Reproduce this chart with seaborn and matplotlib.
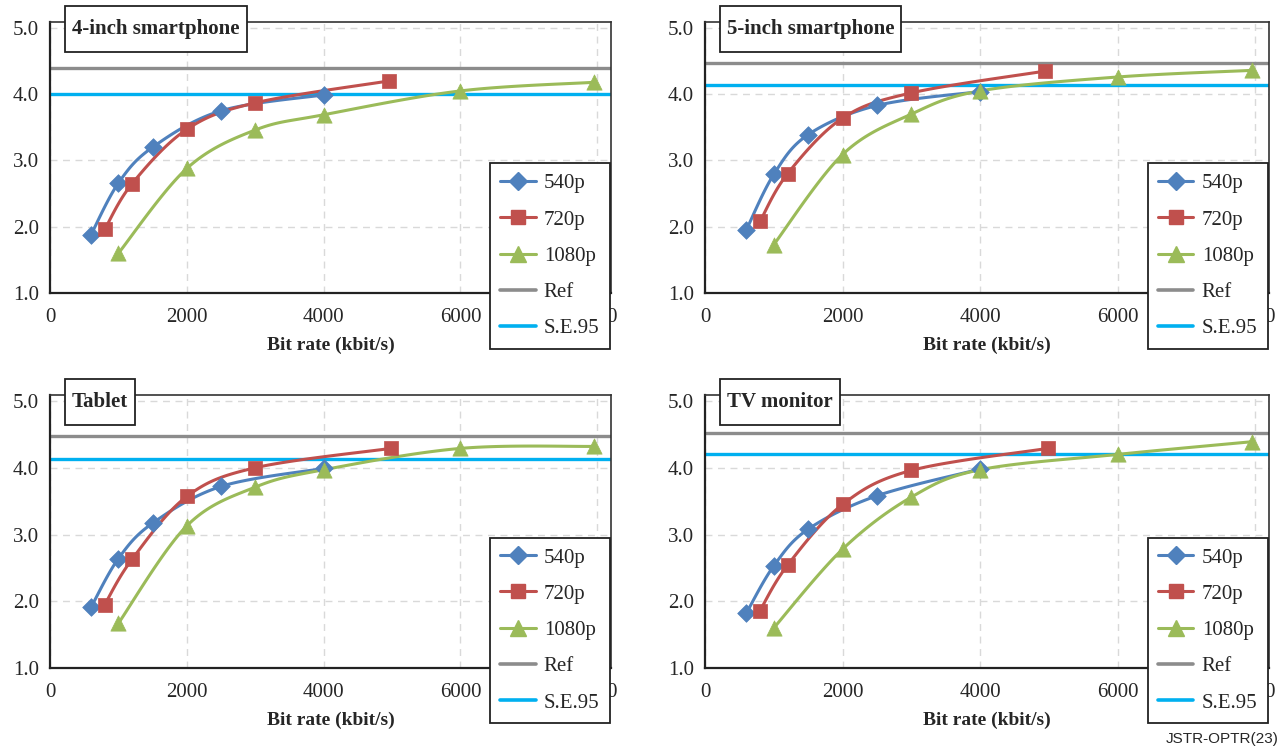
import numpy as np
import pandas as pd
import matplotlib
matplotlib.use("Agg")
import matplotlib.pyplot as plt
from matplotlib.lines import Line2D
from matplotlib.patches import Rectangle
import seaborn as sns

# ---------------- data ----------------
panel_titles = ["4-inch smartphone", "5-inch smartphone", "Tablet", "TV monitor"]
series_names = ["540p", "720p", "1080p"]

x_540 = [600, 1000, 1500, 2500, 4000]
x_720_top = [800, 1200, 2000, 3000, 4950]
x_720_bottom = [800, 1200, 2000, 3000, 4980]
x_1080 = [1000, 2000, 3000, 4000, 6000, 7950]

y_540 = [
    [1.88, 2.66, 3.20, 3.75, 3.99],
    [1.95, 2.79, 3.39, 3.83, 4.04],
    [1.91, 2.64, 3.17, 3.72, 3.99],
    [1.82, 2.53, 3.08, 3.58, 3.98],
]
y_720 = [
    [1.96, 2.65, 3.47, 3.87, 4.20],
    [2.08, 2.80, 3.64, 4.02, 4.35],
    [1.95, 2.63, 3.57, 4.00, 4.29],
    [1.86, 2.54, 3.45, 3.96, 4.29],
]
y_1080 = [
    [1.60, 2.88, 3.46, 3.69, 4.05, 4.18],
    [1.73, 3.09, 3.70, 4.05, 4.26, 4.36],
    [1.67, 3.13, 3.71, 3.97, 4.29, 4.32],
    [1.60, 2.78, 3.56, 3.97, 4.20, 4.39],
]
ref_values = [4.39, 4.47, 4.47, 4.52]
se95_values = [4.00, 4.14, 4.13, 4.20]

x_ticks = [0, 2000, 4000, 6000, 8000]
y_ticks = [1.0, 2.0, 3.0, 4.0, 5.0]

# ---------------- style ----------------
C_540 = "#4F81BD"
C_720 = "#C0504D"
C_1080 = "#9BBB59"
C_REF = "#8C8C8C"
C_SE = "#00B0F0"

sns.set_theme(style="white")
plt.rcParams["font.family"] = ["Liberation Serif", "DejaVu Serif"]


def catmull_rom(x, y, n=24):
    """Excel-like smoothing of a polyline (uniform Catmull-Rom)."""
    p = np.column_stack([x, y]).astype(float)
    p_ext = np.vstack([p[0], p, p[-1]])
    out = []
    t = np.linspace(0, 1, n, endpoint=False)[:, None]
    for i in range(1, len(p_ext) - 2):
        p0, p1, p2, p3 = p_ext[i - 1], p_ext[i], p_ext[i + 1], p_ext[i + 2]
        seg = 0.5 * ((2 * p1) + (-p0 + p2) * t + (2 * p0 - 5 * p1 + 4 * p2 - p3) * t ** 2
                     + (-p0 + 3 * p1 - 3 * p2 + p3) * t ** 3)
        out.append(seg)
    out.append(p[-1][None, :])
    out = np.vstack(out)
    return out[:, 0], out[:, 1]


W, H = 1288, 749
fig = plt.figure(figsize=(W / 100, H / 100), dpi=100)

# axes boxes in pixels: left, right, top, bottom
boxes = [
    (50, 611, 22, 293),
    (705, 1269, 22, 293),
    (50, 611, 395, 668),
    (705, 1269, 395, 668),
]

axes = []
for k, (l, r, t, b) in enumerate(boxes):
    ax = fig.add_axes([l / W, (H - b) / H, (r - l) / W, (b - t) / H])
    axes.append(ax)
    x720 = x_720_top if k < 2 else x_720_bottom

    ax.set_xlim(0, 8200)
    ax.set_ylim(1.0, 5.09)
    ax.set_xticks(x_ticks)
    ax.set_yticks(y_ticks)
    ax.set_xticklabels([str(v) for v in x_ticks])
    ax.set_yticklabels([f"{v:.1f}" for v in y_ticks])
    ax.grid(True, color="#D9D9D9", linestyle=(0, (5, 4)), linewidth=1.0)
    ax.set_axisbelow(True)

    # reference lines
    ref_df = pd.DataFrame({"x": [0, 8200], "y": [ref_values[k]] * 2})
    se_df = pd.DataFrame({"x": [0, 8200], "y": [se95_values[k]] * 2})
    sns.lineplot(data=ref_df, x="x", y="y", ax=ax, color=C_REF, linewidth=2.4, legend=False)
    sns.lineplot(data=se_df, x="x", y="y", ax=ax, color=C_SE, linewidth=2.4, legend=False)

    specs = [
        (x_540, y_540[k], C_540, "D", 9),
        (x720, y_720[k], C_720, "s", 10.5),
        (x_1080, y_1080[k], C_1080, "^", 11),
    ]
    for xs, ys, c, m, ms in specs:
        sx, sy = catmull_rom(xs, ys)
        sns.lineplot(x=sx, y=sy, ax=ax, color=c, linewidth=2.2, sort=False,
                     estimator=None, legend=False)
        sns.scatterplot(x=xs, y=ys, ax=ax, color=c, marker=m, s=ms ** 2,
                        edgecolor=c, linewidth=0.5, legend=False, zorder=5)

    ax.set_xlabel("Bit rate (kbit/s)", fontsize=14, fontweight="bold", labelpad=7)
    ax.set_ylabel("")
    ax.tick_params(axis="both", labelsize=15, length=5, width=1.2, direction="out",
                   color="#222222")
    ax.tick_params(axis="x", pad=6)
    ax.tick_params(axis="y", pad=3)
    for side in ["left", "bottom"]:
        ax.spines[side].set_color("#222222")
        ax.spines[side].set_linewidth(1.6)
    for side in ["top", "right"]:
        ax.spines[side].set_color("#333333")
        ax.spines[side].set_linewidth(1.2)

    handles = [
        Line2D([0], [0], color=C_540, lw=2.2, marker="D", ms=9),
        Line2D([0], [0], color=C_720, lw=2.2, marker="s", ms=10.5),
        Line2D([0], [0], color=C_1080, lw=2.2, marker="^", ms=11),
        Line2D([0], [0], color=C_REF, lw=2.6),
        Line2D([0], [0], color=C_SE, lw=2.6),
    ]
    leg = ax.legend(handles, series_names + ["Ref", "S.E.95"], loc="upper right",
                    bbox_to_anchor=(0.998, 0.478), frameon=True, fancybox=False,
                    fontsize=15, handlelength=1.7, handletextpad=0.4,
                    labelspacing=0.8, borderpad=0.5, borderaxespad=0.0)
    leg.get_frame().set_edgecolor("#222222")
    leg.get_frame().set_linewidth(1.3)
    leg.get_frame().set_facecolor("white")
    leg.get_frame().set_alpha(1.0)
    leg.set_zorder(20)

# titles with boxes
title_texts = []
for k, ax in enumerate(axes):
    l, r, t, b = boxes[k]
    tx = fig.text((l + 22) / W, (H - (t + 7)) / H, panel_titles[k], ha="left",
                  va="center", fontsize=15, fontweight="bold", zorder=30)
    title_texts.append(tx)

fig.canvas.draw()
renderer = fig.canvas.get_renderer()
for k, tx in enumerate(title_texts):
    l, r, t, b = boxes[k]
    bb = tx.get_window_extent(renderer)
    x0 = bb.x0 - 7
    x1 = bb.x1 + 7
    yc = H - (t + 7)
    y0 = yc - 23
    rect = Rectangle((x0 / W, y0 / H), (x1 - x0) / W, 46 / H, transform=fig.transFigure,
                     facecolor="white", edgecolor="#222222", linewidth=1.3, zorder=25)
    fig.patches.append(rect)

fig.text(0.993, 0.004, "JSTR-OPTR(23)", ha="right", va="bottom", fontsize=11,
         family=["Liberation Sans", "DejaVu Sans"])

fig.savefig("out.png", dpi=100)
